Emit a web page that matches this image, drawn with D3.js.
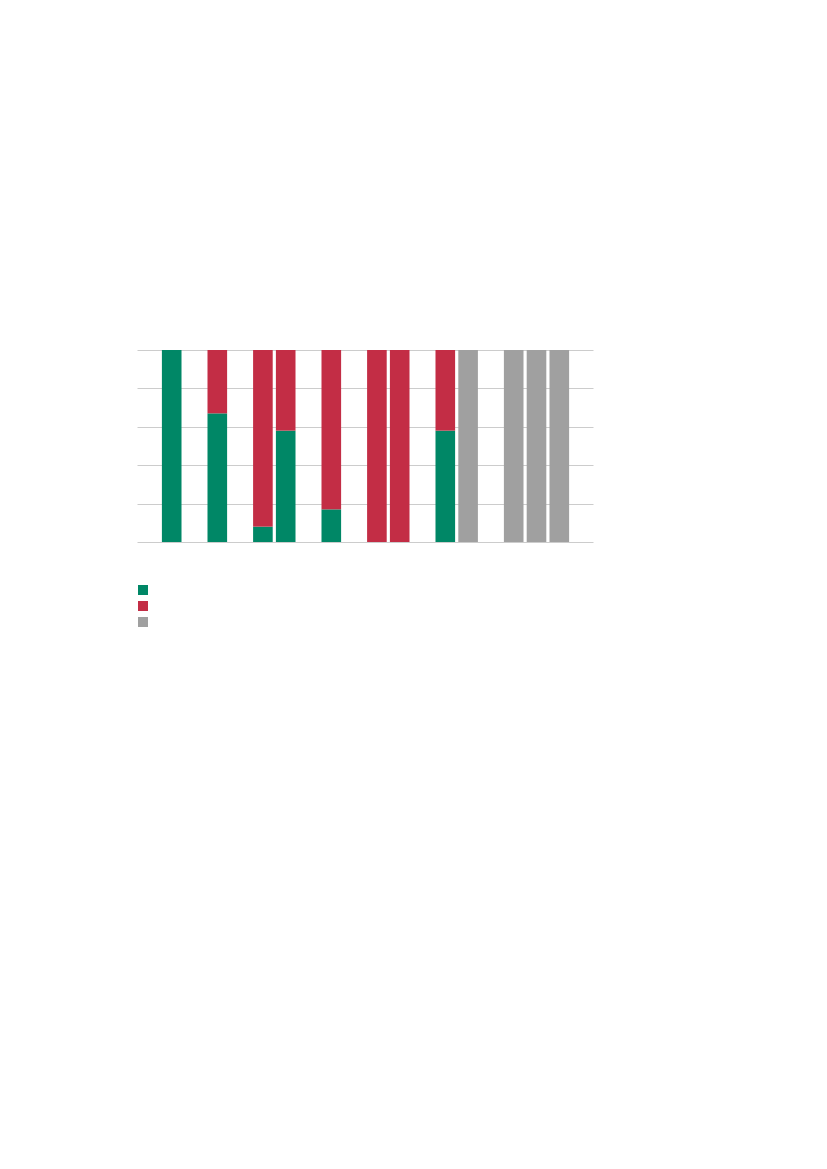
<!DOCTYPE html>
<html>
<head>
<meta charset="utf-8">
<script src="https://cdn.jsdelivr.net/npm/d3@7/dist/d3.min.js"></script>
<style>
  html, body { margin: 0; padding: 0; background: #fff; }
  svg { display: block; }
</style>
</head>
<body>
<script>
// Data (percent shares); empty slots separate groups
const categories = ["s0","a","s1","b","s2","c1","c2","s3","d","s4","e1","e2","s5","f1","f2","s6","g1","g2","g3","s7"];
const green = [0,100,0,67,0,8,58,0,17,0,0,0,0,58,0,0,0,0,0,0];
const red   = [0,0,0,33,0,92,42,0,83,0,100,100,0,42,0,0,0,0,0,0];
const gray  = [0,0,0,0,0,0,0,0,0,0,0,0,0,0,100,0,100,100,100,0];
const seriesNames = ["green","red","gray"];
const seriesColors = ["#008766","#c32d45","#a0a0a0"];
const yTicks = [0,20,40,60,80,100];

const W = 827, H = 1169;
const plot = {left: 137.5, right: 593.5, top: 350, bottom: 542};

const svg = d3.select("body").append("svg").attr("width", W).attr("height", H);

const x = d3.scaleBand().domain(categories).range([plot.left, plot.right]).paddingInner(0.14).paddingOuter(0.07);
const y = d3.scaleLinear().domain([0,100]).range([plot.bottom, plot.top]);

// gridlines
svg.append("g").selectAll("line").data(yTicks).join("line")
  .attr("x1", plot.left).attr("x2", plot.right)
  .attr("y1", d => Math.round(y(d)) + 0.5).attr("y2", d => Math.round(y(d)) + 0.5)
  .attr("stroke", "#cccccc").attr("stroke-width", 1);

const rows = categories.map((c,i) => ({cat: c, green: green[i], red: red[i], gray: gray[i]}));
const stack = d3.stack().keys(seriesNames)(rows);

svg.append("g").selectAll("g").data(stack).join("g")
  .attr("fill", (d,i) => seriesColors[i])
  .selectAll("rect").data(d => d.filter(p => p[1] - p[0] > 0)).join("rect")
  .attr("x", d => x(d.data.cat))
  .attr("width", x.bandwidth())
  .attr("y", d => y(d[1]))
  .attr("height", d => y(d[0]) - y(d[1]));

// legend
const lg = svg.append("g").attr("transform", "translate(138,585)");
lg.selectAll("rect").data(seriesNames).join("rect")
  .attr("x", 0).attr("y", (d,i) => i*16)
  .attr("width", 10).attr("height", 10)
  .attr("fill", (d,i) => seriesColors[i]);
</script>
</body>
</html>
